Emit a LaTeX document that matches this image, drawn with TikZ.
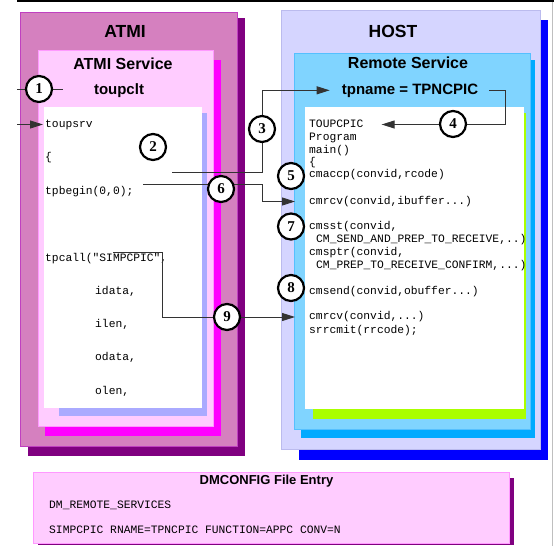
\documentclass[tikz,border=0pt]{standalone}
\usepackage{fontspec}
\setmainfont{Liberation Serif}
\setsansfont{Liberation Sans}
\setmonofont{Liberation Mono}
\usepackage{xcolor}
\usetikzlibrary{arrows.meta,positioning,calc}

\definecolor{atmipink}{HTML}{D580BF}
\definecolor{atmiedge}{HTML}{C040C0}
\definecolor{atmidark}{HTML}{800080}
\definecolor{svcpink}{HTML}{FFCCFF}
\definecolor{svcedge}{HTML}{FF99FF}
\definecolor{svcshadow}{HTML}{FF00FF}
\definecolor{codeshadow}{HTML}{AAAAFF}
\definecolor{hostfill}{HTML}{D5D5FF}
\definecolor{hostedge}{HTML}{BBBBEE}
\definecolor{hostshadow}{HTML}{0000FF}
\definecolor{remfill}{HTML}{80D4FF}
\definecolor{remedge}{HTML}{55C0FF}
\definecolor{remshadow}{HTML}{00AAFF}
\definecolor{limeshadow}{HTML}{AAFF00}

\begin{document}
\begin{tikzpicture}[x=1pt,y=-1pt,
    code/.style={anchor=west,inner sep=0pt,font=\ttfamily\fontsize{11.3}{13}\selectfont,text height=7pt,text depth=2pt},
    head/.style={anchor=base,inner sep=0pt,font=\sffamily\bfseries\fontsize{17.5}{20}\selectfont},
    subhead/.style={anchor=base,inner sep=0pt,font=\sffamily\bfseries\fontsize{16}{18}\selectfont},
    svcname/.style={anchor=base,inner sep=0pt,font=\sffamily\bfseries\fontsize{15}{17}\selectfont},
    numcircle/.style={circle,draw,line width=2.2pt,fill=white,minimum size=26pt,inner sep=0pt,font=\bfseries\fontsize{15}{15}\selectfont},
    conn/.style={draw=black!80,line width=0.9pt},
    arr/.style={conn,-{Triangle[length=13pt,width=8pt]}}]
\useasboundingbox (0,0) rectangle (554,555);

% Frame lines
\draw[black,line width=2pt] (17,1) -- (554,1);
\draw[black!25,line width=1pt] (552,2) -- (552,546);

% ATMI side
\fill[atmidark] (28,18) rectangle (245,456);
\filldraw[fill=atmipink,draw=atmiedge] (20,12) rectangle (237,446);
\fill[svcshadow] (45,60) rectangle (221,436);
\filldraw[fill=svcpink,draw=svcedge] (38,50) rectangle (213,426);
\fill[codeshadow] (59,113) rectangle (207,416);
\fill[white] (44,107) rectangle (202,408);

% HOST side
\fill[hostshadow] (299,20) rectangle (548,460);
\filldraw[fill=hostfill,draw=hostedge] (281,10) rectangle (540,449);
\fill[remshadow] (301,60) rectangle (535,438);
\filldraw[fill=remfill,draw=remedge] (294,53) rectangle (530,429);
\fill[limeshadow] (313,113) rectangle (526,419);
\fill[white] (305,107) rectangle (524,409);

% DMCONFIG entry
\fill[atmidark] (38,478) rectangle (514,545);
\filldraw[fill=svcpink,draw=svcedge] (33.5,472) rectangle (509,543);

% Headings
\node[head] (atmi) at (125,37.5) {ATMI};
\node[head] (host) at (393,37.5) {HOST};
\node[subhead] (atmisvc) at (123,69) {ATMI Service};
\node[subhead] (remsvc) at (408,68.5) {Remote Service};
\node[svcname] (toupclt) at (119,94) {toupclt};
\node[svcname] (tpname) at (410,94) {tpname = TPNCPIC};
\node[anchor=base,inner sep=0pt,font=\sffamily\bfseries\fontsize{13}{15}\selectfont] (dmtitle) at (266.5,484.5) {DMCONFIG File Entry};

% Client code
\node[code] (toupsrv) at (45,124.5) {toupsrv};
\node[code] (lbrace) at (45,157.5) {\{};
\node[code] (tpbegin) at (45,191.5) {tpbegin(0,0);};
\node[code] (tpcall) at (45,258.5) {tpcall("SIMPCPIC",};
\node[code] (idata) at (95,291.5) {idata,};
\node[code] (ilen) at (95,324.5) {ilen,};
\node[code] (odata) at (95,357.5) {odata,};
\node[code] (olen) at (95,391.5) {olen,};

% Remote program code
\node[code] (toupcpic) at (309,124.5) {TOUPCPIC};
\node[code] (program) at (309,137.5) {Program};
\node[code] (mainfn) at (309,150.5) {main()};
\node[code] (rbrace) at (309,163) {\{};
\node[code] (cmaccp) at (309,175) {cmaccp(convid,rcode)};
\node[code] (cmrcvin) at (309,201.5) {cmrcv(convid,ibuffer...)};
\node[code] (cmsst) at (309,227) {cmsst(convid,};
\node[code] (sendprep) at (316,239.5) {CM\_SEND\_AND\_PREP\_TO\_RECEIVE,..)};
\node[code] (cmsptr) at (309,252.5) {cmsptr(convid,};
\node[code] (prepconf) at (316,265.5) {CM\_PREP\_TO\_RECEIVE\_CONFIRM,...)};
\node[code] (cmsend) at (309,291.5) {cmsend(convid,obuffer...)};
\node[code] (cmrcvout) at (309,317) {cmrcv(convid,...)};
\node[code] (srrcmit) at (309,330.5) {srrcmit(rrcode);};

% DMCONFIG lines
\node[code] (dmsvc) at (49,505.5) {DM\_REMOTE\_SERVICES};
\node[code] (dmentry) at (49,531) {SIMPCPIC RNAME=TPNCPIC FUNCTION=APPC CONV=N};

% Connections
\coordinate (in1) at (17,89);
\coordinate (out1) at (63,89);
\coordinate (in2) at (17,124.5);
\coordinate (start3) at (172,172);
\coordinate (bend3) at (262,172);
\coordinate (bend4) at (505,89);
\coordinate (start6) at (143,184.5);
\coordinate (bend6) at (262,184.5);
\coordinate (start9) at (113,252);
\coordinate (bend9) at (162,252);
\draw[conn] (in1) -- (out1);
\draw[arr] (in2) -- ([xshift=-2pt]toupsrv.west);
\draw[arr] (start3) -- (bend3) |- ([xshift=-12pt]tpname.west);
\draw[arr] ([xshift=11pt]tpname.east) -- (tpname.east -| bend4) |- ([xshift=18pt]toupcpic.east);
\draw[arr] (start6) -- (bend6) |- ([xshift=-14pt]cmrcvin.west);
\draw[arr] (start9) -- (bend9) |- ([xshift=-14pt]cmrcvout.west);

% Step numbers
\node[numcircle] (n1) at (39,89) {1};
\node[numcircle] (n2) at (153,147) {2};
\node[numcircle] (n3) at (262,129) {3};
\node[numcircle] (n4) at (453,124) {4};
\node[numcircle] (n5) at (291,176) {5};
\node[numcircle] (n6) at (221,189) {6};
\node[numcircle] (n7) at (291,226.5) {7};
\node[numcircle] (n8) at (291,288) {8};
\node[numcircle] (n9) at (227,317) {9};
\end{tikzpicture}
\end{document}
